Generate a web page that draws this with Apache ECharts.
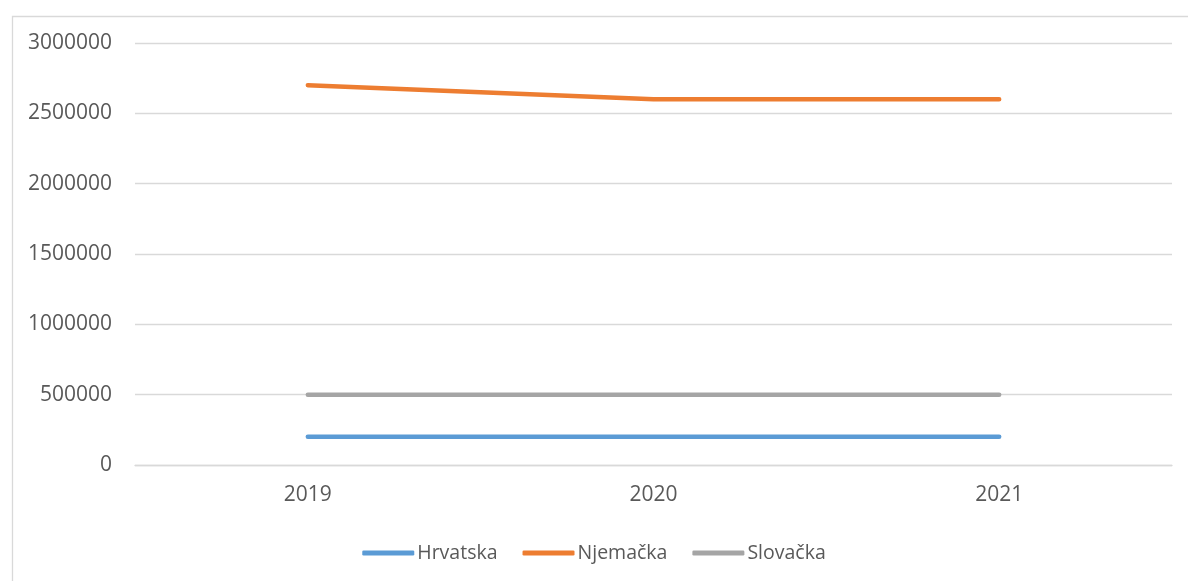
<!DOCTYPE html>
<html>
<head>
<meta charset="utf-8">
<script src="https://cdn.jsdelivr.net/npm/echarts@6/dist/echarts.min.js"></script>
<style>
html,body{margin:0;padding:0;background:#fff;}
#c{width:1188px;height:581px;}
</style>
</head>
<body>
<div id="c"></div>
<script>
const categories = ['2019', '2020', '2021'];
const hrvatska = [200000, 200000, 200000];
const njemacka = [2700000, 2600000, 2600000];
const slovacka = [500000, 500000, 500000];
const seriesNames = ['Hrvatska', 'Njemačka', 'Slovačka'];
const yTicks = [0, 500000, 1000000, 1500000, 2000000, 2500000, 3000000];

const FONT = '"Open Sans", sans-serif';
const TXT = '#595959';
const colors = ['#5B9BD5', '#ED7D31', '#A5A5A5'];

const chart = echarts.init(document.getElementById('c'), null, {renderer: 'canvas'});
function mk(name, data, color) {
  return {
    name: name, type: 'line', data: data, symbol: 'none',
    lineStyle: {color: color, width: 4.5, cap: 'round', join: 'round'},
    itemStyle: {color: color},
    emphasis: {disabled: true},
    animation: false
  };
}
chart.setOption({
  animation: false,
  color: colors,
  graphic: [{
    type: 'rect', left: 10, top: 14, silent: true, z: -10,
    shape: {x: 0, y: 0, width: 1200, height: 600},
    style: {fill: 'none', stroke: '#D9D9D9', lineWidth: 1.3}
  }],
  grid: {left: 135, right: 16, top: 43, bottom: 116, containLabel: false},
  xAxis: {
    type: 'category', data: categories, boundaryGap: true,
    axisLine: {show: true, lineStyle: {color: '#D9D9D9', width: 1.3}},
    axisTick: {show: false},
    axisLabel: {color: TXT, fontFamily: FONT, fontSize: 21, margin: 20}
  },
  yAxis: {
    type: 'value', min: yTicks[0], max: yTicks[yTicks.length - 1], interval: 500000,
    axisLine: {show: false}, axisTick: {show: false},
    splitLine: {lineStyle: {color: '#D9D9D9', width: 1.3}},
    axisLabel: {color: TXT, fontFamily: FONT, fontSize: 21, margin: 23,
      formatter: function (v) { return String(v); }}
  },
  legend: {
    data: seriesNames, left: 'center', top: 538,
    icon: 'roundRect', itemWidth: 52, itemHeight: 5, itemGap: 25,
    textStyle: {color: TXT, fontFamily: FONT, fontSize: 19.5, padding: [0, 0, 0, -2]}
  },
  series: [
    mk(seriesNames[0], hrvatska, colors[0]),
    mk(seriesNames[1], njemacka, colors[1]),
    mk(seriesNames[2], slovacka, colors[2])
  ]
});
</script>
</body>
</html>
